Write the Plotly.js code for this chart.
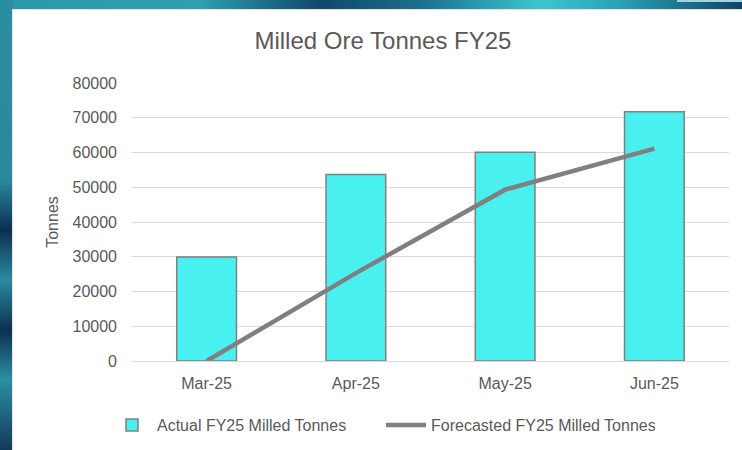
<!DOCTYPE html>
<html>
<head>
<meta charset="utf-8">
<script src="https://cdn.plot.ly/plotly-3.0.1.min.js"></script>
<style>
  html, body { margin: 0; padding: 0; width: 742px; height: 450px; overflow: hidden; }
  body { position: relative; background: linear-gradient(90deg, #2b98a8 0px, #2e9fb0 200px, #10486a 320px, #1b6f8c 420px, #3cc6d0 540px, #2aa2b4 620px, #0f4566 742px); }
  #leftband { position: absolute; left: 0; top: 0; width: 13px; height: 450px;
    background: linear-gradient(180deg, #2b8ea0 0px, #2a8a9c 180px, #0c2f52 230px, #2a8aa0 280px, #0d3050 330px, #2b8fa2 380px, #123a5a 450px); }
  #topbox { position: absolute; left: 677px; top: 0; width: 65px; height: 2px; background: #9fd6e0; }
  #panel { position: absolute; left: 12px; top: 9px; width: 730px; height: 441px; background: #e3e3e3; }
  #chart { position: absolute; left: 13px; top: 10px; width: 729px; height: 440px; }
</style>
</head>
<body>
<div id="leftband"></div>
<div id="topbox"></div>
<div id="panel"></div>
<div id="chart"></div>
<script>
const categories = ['Mar-25', 'Apr-25', 'May-25', 'Jun-25'];
const actualTonnes = [29900, 53700, 60100, 71700];
const forecastTonnes = [0, 25300, 49300, 61100];
const yTickVals = [0, 10000, 20000, 30000, 40000, 50000, 60000, 70000, 80000];

const FONT = 'Liberation Sans, Arial, sans-serif';
const GREY = '#595959';

const traces = [
  {
    type: 'bar',
    name: 'Actual FY25 Milled Tonnes',
    x: categories,
    y: actualTonnes,
    marker: { color: '#48F0F0', line: { color: '#808080', width: 1.5 } },
    hoverinfo: 'skip'
  },
  {
    type: 'scatter',
    mode: 'lines',
    name: 'Forecasted FY25 Milled Tonnes',
    x: categories,
    y: forecastTonnes,
    line: { color: '#808080', width: 4.5 },
    hoverinfo: 'skip'
  }
];

const layout = {
  width: 729,
  height: 440,
  paper_bgcolor: '#ffffff',
  plot_bgcolor: '#ffffff',
  margin: { l: 119, r: 13, t: 73, b: 89, pad: 0 },
  font: { family: FONT, color: GREY, size: 16 },
  title: {
    text: 'Milled Ore Tonnes FY25',
    font: { family: FONT, size: 24, color: GREY },
    xref: 'container', x: 0.5075, xanchor: 'center',
    yref: 'container', y: 1 - 30.5 / 440, yanchor: 'middle'
  },
  bargap: 0.6,
  xaxis: {
    type: 'category',
    showgrid: false,
    showline: false,
    zeroline: false,
    ticks: '',
    tickfont: { family: FONT, size: 16, color: GREY },
    ticklabelstandoff: 11
  },
  yaxis: {
    range: [0, 80000],
    tickvals: yTickVals,
    ticktext: yTickVals.map(String),
    showgrid: true,
    gridcolor: '#d9d9d9',
    gridwidth: 1,
    zeroline: true,
    zerolinecolor: '#d9d9d9',
    zerolinewidth: 1,
    showline: false,
    ticks: '',
    tickfont: { family: FONT, size: 16, color: GREY },
    ticklabelstandoff: 14,
    title: { text: 'Tonnes', font: { family: FONT, size: 16, color: GREY }, standoff: 9 }
  },
  showlegend: true,
  legend: {
    orientation: 'h',
    xref: 'container', x: 94 / 729, xanchor: 'left',
    yref: 'container', y: 1 - 415 / 440, yanchor: 'middle',
    font: { family: FONT, size: 16, color: GREY },
    entrywidth: 219, entrywidthmode: 'pixels',
    itemwidth: 40,
    bgcolor: 'rgba(0,0,0,0)'
  }
};

Plotly.newPlot('chart', traces, layout, { staticPlot: true, displayModeBar: false });
</script>
</body>
</html>
